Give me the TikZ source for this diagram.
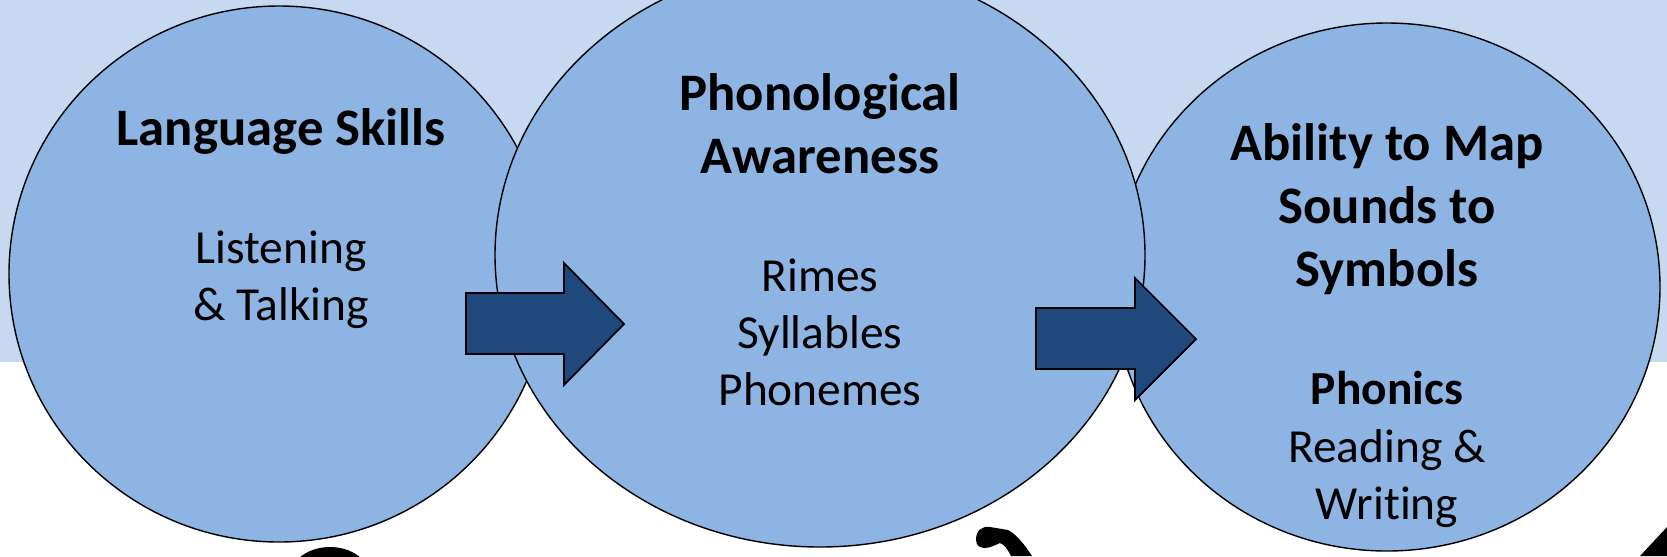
\documentclass[tikz,border=0pt]{standalone}
\usepackage{fontspec}
\setmainfont{Carlito}[Ligatures=NoCommon]
\definecolor{bandblue}{HTML}{C6D9F1}
\definecolor{bubbleblue}{HTML}{8EB4E3}
\definecolor{arrowblue}{HTML}{1F497D}

\begin{document}
\begin{tikzpicture}[x=0.02cm, y=-0.02cm,
	bubble/.style={draw=black, line width=0.8pt, fill=bubbleblue},
	blockarrow/.style={draw=black, line width=1pt, fill=arrowblue, line join=miter},
	heading/.style={align=center, font={\fontsize{30}{36}\selectfont\bfseries}, inner sep=0pt},
	body/.style={align=center, font={\fontsize{27}{32.5}\selectfont}, inner sep=0pt}]
	\useasboundingbox (0,0) rectangle (1667,556);
	\clip (0,0) rectangle (1667,556);
	% background band
	\fill[bandblue] (0,0) rectangle (1667,362);
	% the three bubbles
	\draw[bubble] (279,274) ellipse [x radius=270, y radius=268];
	\draw[bubble] (1387,287) ellipse [x radius=273, y radius=264];
	\draw[bubble] (820,255) ellipse [x radius=325, y radius=292];
	% block arrows
	\draw[blockarrow] (466,293) -- (564,293) -- (564,263) -- (624,324) -- (564,385) -- (564,354) -- (466,354) -- cycle;
	\draw[blockarrow] (1036,308) -- (1135,308) -- (1135,278) -- (1196,339) -- (1135,400) -- (1135,369) -- (1036,369) -- cycle;
	% texts
	\node[heading] (langhead) at (281,131) {Language Skills};
	\node[body] (langbody) at (281,280) {Listening\\\& Talking};
	\node[heading] (phonhead) at (820,124) {Phonological\\Awareness};
	\node[body] (phonbody) at (820,332) {Rimes\\Syllables\\Phonemes};
	\node[heading] (maphead) at (1387,209) {Ability to Map\\Sounds to\\Symbols};
	\node[body, font={\fontsize{27}{32.5}\selectfont\bfseries}] (mapsub) at (1387,388) {Phonics};
	\node[body] (mapbody) at (1387,479) {Reading \&\\Writing};
	% cut-off glyphs along the bottom edge
	\fill[black] (330,577) ellipse [x radius=40, y radius=30];
	\fill[black] (976,540) .. controls (976,530) and (982,526) .. (990,527) -- (1008,530) .. controls (1015,533) and (1025,545) .. (1032,556) -- (1011,556) .. controls (1008,550) and (1005,545) .. (1000,543) .. controls (993,546) and (986,550) .. (980,547) .. controls (977,545) and (976,543) .. (976,540) -- cycle;
	\fill[black] (1640,556) -- (1667,527) -- (1667,556) -- cycle;
\end{tikzpicture}
\end{document}
